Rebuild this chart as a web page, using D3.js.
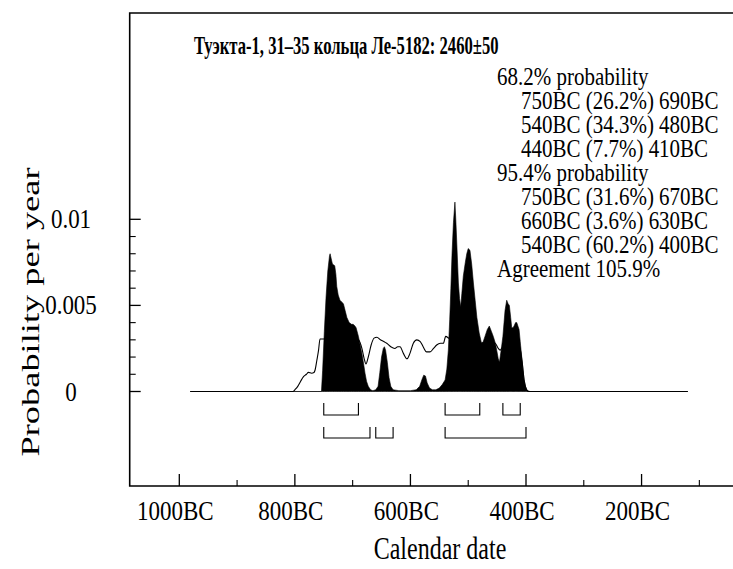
<!DOCTYPE html>
<html><head><meta charset="utf-8">
<script src="https://cdn.jsdelivr.net/npm/d3@7"></script>
<style>
html,body{margin:0;padding:0;background:#fff;}
svg text{font-family:"Liberation Serif","Times New Roman",serif;fill:#000;}
</style></head>
<body><svg id="c" width="733" height="569"></svg>
<script>
// ---- data (years BC, probability per year) ----
const postYears  = [981,800,760,754,752,749,746,743,740,739,737,735,731,729,727.5,725,722,719,716,713,710,706,702,699,696,694,690,687,684,681,678.6,676,673,669,665,660,656,653,650,647,645,643,640,637,634,630,620,600,590,584,580,577,574,571,567,562,556,550,545,540,537,534.4,532,530,528,525.6,523,521.5,520,517,515,513,511,508.5,505,502.5,500,497,494,491,488,485,481,477,474,471,467,463.5,460,456.6,453,450.7,448,446,443,440,438,436.3,433.4,431,428.8,426.5,424.7,422.5,420.7,418,416,414,412,410,407.4,405,403.4,401,398.8,395,393,120];
const postValues = [0,0,0,0,0.0012,0.0035,0.0055,0.0070,0.0079,0.0080,0.0077,0.0074,0.0073,0.0068,0.0061,0.0056,0.0053,0.0052,0.0051,0.0047,0.0043,0.0040,0.0039,0.0039,0.0038,0.0037,0.0032,0.0027,0.0022,0.0016,0.00106,0.0006,0.0003,0.0001,0.00005,0.0001,0.0003,0.0011,0.0020,0.0025,0.0026,0.0024,0.0017,0.0008,0.0003,0.0001,0.00005,0.00005,0.0001,0.0003,0.0007,0.00095,0.0009,0.0005,0.0002,0.0001,0.0001,0.0002,0.0004,0.00067,0.0013,0.0024,0.0042,0.0060,0.0080,0.0098,0.0110,0.0100,0.0088,0.0063,0.0054,0.0049,0.0057,0.0067,0.0075,0.0080,0.0083,0.0082,0.0074,0.0063,0.0053,0.0043,0.0034,0.0028,0.0029,0.0032,0.0036,0.0038,0.0035,0.0032,0.0028,0.0024,0.0019,0.0017,0.0024,0.0032,0.0040,0.0047,0.0053,0.0051,0.0050,0.0043,0.0037,0.0037,0.0038,0.0040,0.0040,0.0038,0.0036,0.0029,0.0020,0.0012,0.0007,0.0003,0.0001,0.00002,0,0];
const priorYears  = [981,803,800,795,790,785,780,776.6,771,767,765,762,759,756.5,746,740,720,700,690,684,680,677,673,668,663,658,652,646,641,634,627,622,618,612,606,601,595,589,583,578,572,566,560,554.6,548,543,539,534,530,500,470,453.6,448,444.8,440,420,412,407,403,399,396,120];
const priorValues = [0,0,0.0001,0.0003,0.0006,0.00086,0.0010,0.00111,0.00106,0.0011,0.00125,0.0018,0.0024,0.00305,0.00305,0.0031,0.0031,0.0031,0.0030,0.0025,0.0019,0.0016,0.0020,0.0027,0.0031,0.00315,0.0030,0.0029,0.0028,0.0026,0.0025,0.0026,0.0026,0.0022,0.0019,0.0022,0.0028,0.0030,0.0029,0.0026,0.0023,0.0023,0.0025,0.0027,0.0028,0.0028,0.0032,0.0031,0.0030,0.0029,0.0028,0.0028,0.0025,0.0024,0.0026,0.0028,0.0027,0.0018,0.0006,0.0001,0,0];
const range68 = [[750,690],[540,480],[440,410]];
const range95 = [[750,670],[660,630],[540,400]];
const title = "Туэкта-1, 31–35 кольца Ле-5182: 2460±50";
const infoLines = ["68.2% probability","750BC (26.2%) 690BC","540BC (34.3%) 480BC","440BC (7.7%) 410BC","95.4% probability","750BC (31.6%) 670BC","660BC (3.6%) 630BC","540BC (60.2%) 400BC","Agreement 105.9%"];
const infoIndent = [0,1,1,1,0,1,1,1,0];
const xMajorTicks = [1000,800,600,400,200];
const xMinorTicks = [1100,900,700,500,300,100];
const yMajorTicks = [0,0.005,0.01];
const yTickLabels = ["0","0.005","0.01"];
const yMinorTicks = [0.001,0.002,0.003,0.004,0.006,0.007,0.008,0.009];

// ---- layout ----
const svg = d3.select("#c");
const x = d3.scaleLinear().domain([1000,400]).range([179.3,526]);   // years BC
const y = d3.scaleLinear().domain([0,0.01]).range([391.5,219.3]);
const fL = 129.7, fT = 13, fB = 486, fR = 740;

// text helper: font size fs, horizontal scale sx, vertical scale sy
function txt(tx, ty, s, fs, sx, sy, anchor, weight){
  return svg.append("text").attr("transform",`translate(${tx},${ty}) scale(${sx},${sy})`)
    .attr("text-anchor",anchor||"start").attr("font-size",fs).attr("font-weight",weight||"normal").text(s);
}

// filled posterior
const area = d3.area().x((d,i)=>x(postYears[i])).y0(y(0)).y1((d)=>y(d)).curve(d3.curveLinear);
svg.append("path").attr("d",area(postValues)).attr("fill","#000").attr("stroke","#000").attr("stroke-width",0.6);
// prior outline
const line = d3.line().x((d,i)=>x(priorYears[i])).y(d=>y(d)).curve(d3.curveMonotoneX);
svg.append("path").attr("d",line(priorValues)).attr("fill","none").attr("stroke","#000").attr("stroke-width",1.1);

// ranges
function drawRanges(r, yTop, yBot){
  r.forEach(([a,b])=>{
    svg.append("path").attr("d",`M${x(a)},${yTop}V${yBot}H${x(b)}V${yTop}`)
      .attr("fill","none").attr("stroke","#000").attr("stroke-width",1.1);
  });
}
drawRanges(range68, 403, 415);
drawRanges(range95, 427, 438);

// frame
svg.append("path").attr("d",`M${fR},${fT}H${fL}V${fB}H${fR}`)
  .attr("fill","none").attr("stroke","#000").attr("stroke-width",1.6);

// x ticks
xMajorTicks.forEach(t=>svg.append("line").attr("x1",x(t)).attr("x2",x(t)).attr("y1",fB).attr("y2",fB-12).attr("stroke","#000").attr("stroke-width",1.3));
xMinorTicks.forEach(t=>{ if(x(t)>fL) svg.append("line").attr("x1",x(t)).attr("x2",x(t)).attr("y1",fB).attr("y2",fB-6).attr("stroke","#000").attr("stroke-width",1.1);});
xMajorTicks.forEach(t=>txt(x(t)-4, 520, t+"BC", 23, 1, 1.15, "middle"));
// y ticks
yMajorTicks.forEach(t=>svg.append("line").attr("x1",fL).attr("x2",fL+11).attr("y1",y(t)).attr("y2",y(t)).attr("stroke","#000").attr("stroke-width",1.3));
yMinorTicks.forEach(t=>svg.append("line").attr("x1",fL).attr("x2",fL+6).attr("y1",y(t)).attr("y2",y(t)).attr("stroke","#000").attr("stroke-width",1.1));
yMajorTicks.forEach((t,i)=>txt(71, y(t)+9, yTickLabels[i], 23, 1, 1.15, "middle"));

// axis titles
txt(440, 559, "Calendar date", 24, 1, 1.3, "middle");
svg.append("text").attr("transform","translate(39,312) rotate(-90) scale(1.4,1)")
  .attr("text-anchor","middle").attr("font-size",26).text("Probability per year");

// title and info
txt(194, 54, title, 25, 0.665, 1, "start", "bold");
infoLines.forEach((s,i)=>txt(infoIndent[i]?521:497, 85+i*24, s, 21, 1, 1.15));
</script></body></html>
